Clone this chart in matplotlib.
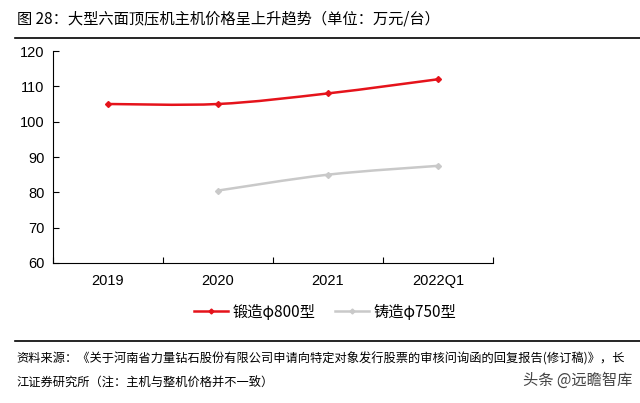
import matplotlib
matplotlib.use("Agg")
import matplotlib.pyplot as plt
import numpy as np
from matplotlib.path import Path
from matplotlib.patches import PathPatch
from matplotlib.lines import Line2D

plt.rcParams['font.family'] = ['Liberation Sans', 'Noto Sans CJK SC', 'DejaVu Sans']

categories = ["2019", "2020", "2021", "2022Q1"]
forged_800 = [105, 105, 108, 112]
cast_750 = [None, 80.5, 85, 87.5]
series_names = ["锻造φ800型", "铸造φ750型"]
title = "图 28：大型六面顶压机主机价格呈上升趋势（单位：万元/台）"
source_lines = ["资料来源：《关于河南省力量钻石股份有限公司申请向特定对象发行股票的审核问询函的回复报告(修订稿)》，长",
                "江证券研究所（注：主机与整机价格并不一致）"]
watermark = "头条 @远瞻智库"

RED = "#E5131B"
GRAY = "#C9C9C9"

fig = plt.figure(figsize=(6.4, 4.03), dpi=100)
ax = fig.add_axes([53/640, 1-263/403, 440/640, 212/403])

def smooth_path(xs, ys):
    # Catmull-Rom style Bezier through the data points (drawing only)
    pts = np.array(list(zip(xs, ys)), dtype=float)
    verts = [tuple(pts[0])]
    codes = [Path.MOVETO]
    n = len(pts)
    for i in range(n - 1):
        p0 = pts[i - 1] if i > 0 else pts[i]
        p1 = pts[i]
        p2 = pts[i + 1]
        p3 = pts[i + 2] if i + 2 < n else pts[i + 1]
        c1 = p1 + (p2 - p0) / 6.0
        c2 = p2 - (p3 - p1) / 6.0
        verts += [tuple(c1), tuple(c2), tuple(p2)]
        codes += [Path.CURVE4] * 3
    return Path(verts, codes)

x = np.arange(len(categories))
for vals, col in [(forged_800, RED), (cast_750, GRAY)]:
    xs = [xi for xi, v in zip(x, vals) if v is not None]
    ys = [v for v in vals if v is not None]
    ax.add_patch(PathPatch(smooth_path(xs, ys), facecolor='none', edgecolor=col, lw=1.8, zorder=3))
    ax.plot(xs, ys, linestyle='none', marker='D', markersize=3, color=col, zorder=4)

ax.set_xlim(-0.5, 3.5)
ax.set_ylim(60, 120)
ax.set_yticks(np.arange(60, 121, 10))
ax.set_xticks(x)
ax.set_xticklabels(categories)
ax.set_xticks(np.arange(-0.5, 3.6, 1.0), minor=True)
ax.tick_params(axis='x', which='major', length=0, labelsize=10.5, pad=8, colors='black')
ax.tick_params(axis='x', which='minor', length=4, direction='in', color='black', width=0.8)
ax.tick_params(axis='y', which='major', length=4, direction='in', labelsize=10.5, pad=6, width=0.8)
for s in ['top', 'right']:
    ax.spines[s].set_visible(False)
for s in ['left', 'bottom']:
    ax.spines[s].set_linewidth(0.8)
    ax.spines[s].set_color('black')

handles = [Line2D([0], [0], color=RED, lw=1.8, marker='D', markersize=2.5),
           Line2D([0], [0], color=GRAY, lw=1.8, marker='D', markersize=2.5)]
fig.legend(handles, series_names, loc='center', bbox_to_anchor=(325/640, 1-312/403), ncol=2,
           frameon=False, handlelength=2.2, handletextpad=0.3, columnspacing=1.3,
           prop={'family': ['Noto Sans CJK SC', 'DejaVu Sans'], 'size': 11})

fig.text(17/640, 1-19/403, title, fontsize=11, va='center', ha='left',
         family=['Noto Sans CJK SC', 'DejaVu Sans'])
fig.add_artist(Line2D([15/640, 1.0], [1-38/403, 1-38/403], color='black', lw=1.2))
fig.add_artist(Line2D([15/640, 1.0], [1-341/403, 1-341/403], color='black', lw=1.2))
fig.text(16/640, 1-359/403, source_lines[0], fontsize=8.8, va='center', ha='left',
         family=['Noto Sans CJK SC', 'DejaVu Sans'])
fig.text(16/640, 1-383/403, source_lines[1], fontsize=8.8, va='center', ha='left',
         family=['Noto Sans CJK SC', 'DejaVu Sans'])
fig.text(632/640, 1-380/403, watermark, fontsize=11, va='center', ha='right', color='#444444',
         family=['Noto Sans CJK SC', 'DejaVu Sans'])

fig.savefig("out.png", dpi=100)
